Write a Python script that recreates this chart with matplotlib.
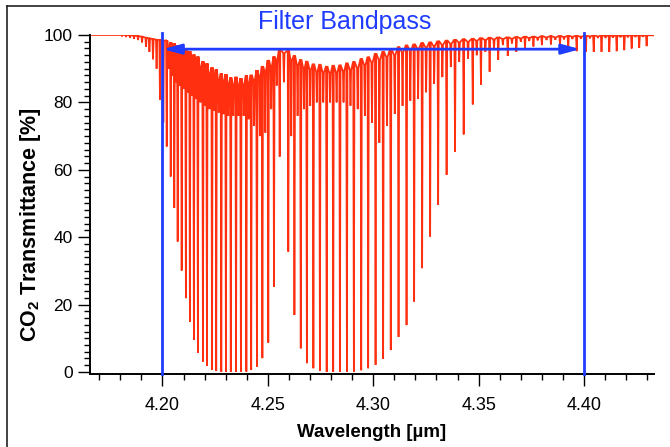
import numpy as np
import matplotlib
matplotlib.use("Agg")
import matplotlib.pyplot as plt
from matplotlib.lines import Line2D

plt.rcParams["font.family"] = ["Liberation Sans", "DejaVu Sans"]
plt.rcParams["mathtext.fontset"] = "custom"
plt.rcParams["mathtext.rm"] = "Liberation Sans"
plt.rcParams["mathtext.bf"] = "Liberation Sans:bold"

# ---- CO2 absorption lines: centre [um], minimum transmittance [%], local top [%]
strong_um = [
    4.1808, 4.1827, 4.1846, 4.1865, 4.1884, 4.1903, 4.1922, 4.1938, 4.1955, 4.1972,
    4.1988, 4.2004,
    4.2020, 4.2039, 4.2056, 4.2072, 4.2091, 4.2111, 4.2130, 4.2149, 4.2168, 4.2192,
    4.2211, 4.2235, 4.2255, 4.2279, 4.2301, 4.2324, 4.2349, 4.2372, 4.2398, 4.2421,
    4.2448, 4.2474, 4.2502, 4.2529, 4.2556,
    4.2597, 4.2626, 4.2656, 4.2685, 4.2716, 4.2747, 4.2779, 4.2810, 4.2842, 4.2875,
    4.2908, 4.2943, 4.2976, 4.3011, 4.3047, 4.3083, 4.3120, 4.3158, 4.3194, 4.3232,
    4.3270, 4.3308, 4.3348, 4.3388, 4.3429, 4.3472, 4.3511, 4.3552, 4.3593, 4.3638,
    4.3679, 4.3720, 4.3760, 4.3800, 4.3843, 4.3886, 4.3925, 4.3965,
    4.4009, 4.4046, 4.4083, 4.4120, 4.4155, 4.4191, 4.4226, 4.4262, 4.4297,
]
strong_min = [
    99.6, 99.4, 99.2, 98.9, 98.5, 97.8, 96.5, 95.0, 92.8, 90.0,
    80.7, 74.0,
    66.9, 58.0, 48.7, 38.7, 30.1, 21.9, 14.9, 9.5, 5.7, 3.1,
    1.8, 0.6, 0.3, 0.0, 0.0, 0.0, 0.0, 0.0, 0.1, 0.6,
    1.6, 4.1, 8.7, 25.3, 63.9,
    35.7, 16.9, 7.0, 2.6, 1.1, 0.4, 0.0, 0.0, 0.0, 0.0,
    0.1, 0.5, 1.1, 2.1, 3.9, 6.5, 10.4, 13.9, 20.9, 30.8,
    40.2, 49.6, 58.5, 65.4, 70.5, 79.4, 85.3, 89.1, 92.6, 93.8,
    95.0, 96.0, 96.6, 97.0, 97.2, 97.0, 95.6, 95.2,
    95.0, 95.0, 95.0, 95.0, 95.2, 95.5, 96.0, 96.2, 96.7,
]
strong_top = [
    100.0, 100.0, 99.9, 99.8, 99.7, 99.5, 99.2, 99.0, 98.8, 98.6,
    98.5, 98.3,
    98.4, 97.9, 97.6, 97.0, 96.6, 95.8, 95.2, 94.2, 93.6, 92.2,
    91.6, 90.4, 89.8, 88.6, 88.4, 87.4, 87.6, 87.2, 88.0, 88.2,
    89.6, 90.8, 92.6, 93.6, 96.0,
    95.5, 94.0, 92.8, 92.3, 91.5, 91.4, 90.8, 91.1, 91.2, 91.8,
    92.2, 93.1, 93.6, 94.6, 95.2, 96.0, 96.6, 97.1, 97.4, 97.8,
    98.0, 98.3, 98.5, 98.7, 98.9, 99.0, 99.2, 99.3, 99.4, 99.4,
    99.5, 99.6, 99.6, 99.7, 99.7, 99.8, 99.8, 99.8,
    99.9, 99.9, 99.9, 99.9, 99.9, 99.9, 99.9, 99.9, 99.9,
]

weak_um = [
    4.2029, 4.2047, 4.2064, 4.2082, 4.2101, 4.2121, 4.2140, 4.2159, 4.2180, 4.2202,
    4.2223, 4.2245, 4.2267, 4.2290, 4.2312, 4.2336, 4.2361, 4.2385, 4.2409, 4.2435,
    4.2462, 4.2488, 4.2516, 4.2542, 4.2576,
    4.2611, 4.2641, 4.2671, 4.2701, 4.2732, 4.2763, 4.2795, 4.2826, 4.2859, 4.2892,
    4.2926, 4.2960, 4.2994, 4.3029, 4.3065, 4.3102, 4.3139, 4.3176, 4.3213, 4.3251,
    4.3289, 4.3328, 4.3368, 4.3408, 4.3450, 4.3491, 4.3532, 4.3573, 4.3615, 4.3658,
    4.3700, 4.3740, 4.3780, 4.3822, 4.3864, 4.3905, 4.3945, 4.3985, 4.4028, 4.4066,
    4.4102, 4.4137, 4.4173, 4.4208, 4.4244, 4.4279,
]
weak_min = [
    90.0, 88.0, 86.0, 85.0, 84.0, 83.0, 82.0, 81.0, 80.0, 79.0,
    78.0, 77.5, 77.0, 76.5, 76.0, 76.0, 76.0, 76.0, 75.0, 73.0,
    70.0, 71.0, 78.0, 85.0, 86.0,
    70.0, 76.0, 78.0, 79.0, 80.0, 80.0, 80.0, 80.0, 80.0, 79.0,
    78.0, 76.0, 74.0, 68.0, 73.0, 76.6, 79.0, 80.5, 81.0, 83.0,
    85.5, 87.5, 90.5, 92.0, 93.0, 94.0, 95.0, 96.0, 97.0, 97.5,
    98.0, 98.2, 98.4, 98.5, 98.6, 98.7, 98.8, 98.9, 99.0, 99.1,
    99.1, 99.2, 99.3, 99.3, 99.4, 99.5,
]
weak_top = [
    95.8, 95.6, 94.9, 94.6, 93.6, 93.2, 92.0, 91.4, 90.2, 89.6,
    88.2, 87.6, 86.4, 86.0, 85.2, 85.0, 84.8, 85.0, 85.4, 86.4,
    87.6, 89.2, 90.6, 92.6, 94.6,
    92.4, 91.0, 90.0, 89.6, 89.0, 88.8, 88.6, 88.8, 89.2, 89.6,
    90.2, 91.0, 91.8, 92.6, 93.4, 94.0, 94.8, 95.4, 95.9, 96.3,
    96.7, 97.1, 97.4, 97.8, 98.0, 98.3, 98.5, 98.7, 98.8, 98.9,
    99.0, 99.1, 99.2, 99.3, 99.3, 99.4, 99.5, 99.5, 99.6, 99.6,
    99.7, 99.7, 99.7, 99.8, 99.8, 99.8,
]

# ends of the recorded span
span_um = [4.1660, 4.4330]
span_T = [100.0, 99.9]

filter_edges_um = [4.20, 4.40]
arrow_T = 95.8
arrow_um = [4.2002, 4.3982]

xticks = [4.20, 4.25, 4.30, 4.35, 4.40]
xtick_labels = ["4.20", "4.25", "4.30", "4.35", "4.40"]
yticks = [0, 20, 40, 60, 80, 100]

RED = "#ff2f0f"
BLUE = "#1f3cff"

# ---- build the transmittance trace: each line is a narrow V dip
centers = np.concatenate([strong_um, weak_um])
minima = np.concatenate([strong_min, weak_min])
tops = np.concatenate([strong_top, weak_top])
order = np.argsort(centers)
hw = 0.0003
wl = [span_um[0]]
tr = [span_T[0]]
for c, m, t in zip(centers[order], minima[order], tops[order]):
    wl += [c - hw, c, c + hw]
    tr += [t, m, t]
wl.append(span_um[1])
tr.append(span_T[1])

fig = plt.figure(figsize=(6.70, 4.47), dpi=100)
ax = fig.add_axes([0.1343, 0.1626, 0.8418, 0.7591])

ax.plot(wl, tr, color=RED, lw=1.25, solid_joinstyle="miter", zorder=2)

for x in filter_edges_um:
    ax.plot([x, x], [-0.7, 100.6], color=BLUE, lw=2.0, clip_on=False, zorder=3)

ax.annotate("", xy=(arrow_um[1], arrow_T), xytext=(arrow_um[0], arrow_T),
            arrowprops=dict(arrowstyle="<|-|>,head_length=1.1,head_width=0.3",
                            mutation_scale=10, lw=2.0, color=BLUE,
                            shrinkA=0, shrinkB=0), zorder=4)

fig.text(0.515, 0.951, "Filter Bandpass", color=BLUE, fontsize=18,
         ha="center", va="center")

ax.set_xlim(4.1656, 4.4332)
ax.set_ylim(-0.7, 100)
ax.set_xticks(xticks)
ax.set_xticklabels(xtick_labels)
ax.set_xticks(np.arange(4.17, 4.435, 0.01), minor=True)
ax.set_yticks(yticks)
ax.set_yticks(np.arange(0, 101, 2), minor=True)

for s in ["top", "right"]:
    ax.spines[s].set_visible(False)
for s in ["left", "bottom"]:
    ax.spines[s].set_linewidth(1.4)

ax.tick_params(which="major", direction="out", length=8.5, width=1.0, pad=4)
ax.tick_params(axis="x", which="major", labelsize=13, pad=8)
ax.tick_params(axis="y", which="major", labelsize=12.5, pad=4)
ax.tick_params(which="minor", direction="out", length=4, width=1.0)

ax.set_xlabel("Wavelength [µm]", fontsize=13.5, fontweight="bold")
ax.xaxis.set_label_coords(0.5, -0.172)
ax.set_ylabel(r"CO$_\mathbf{2}$ Transmittance [%]", fontsize=15.5,
              fontweight="bold")
ax.yaxis.set_label_coords(-0.1046, 0.44)
ax.yaxis.label.set_va("center")
ax.xaxis.label.set_va("center")

# page frame
fig.add_artist(Line2D([6.5 / 670, 1.0], [1 - 6 / 447, 1 - 6 / 447],
                      transform=fig.transFigure, color="#222222", lw=1.2))
fig.add_artist(Line2D([6.5 / 670, 6.5 / 670], [0.0, 1 - 6 / 447],
                      transform=fig.transFigure, color="#222222", lw=1.2))

fig.savefig("out.png", dpi=100)
